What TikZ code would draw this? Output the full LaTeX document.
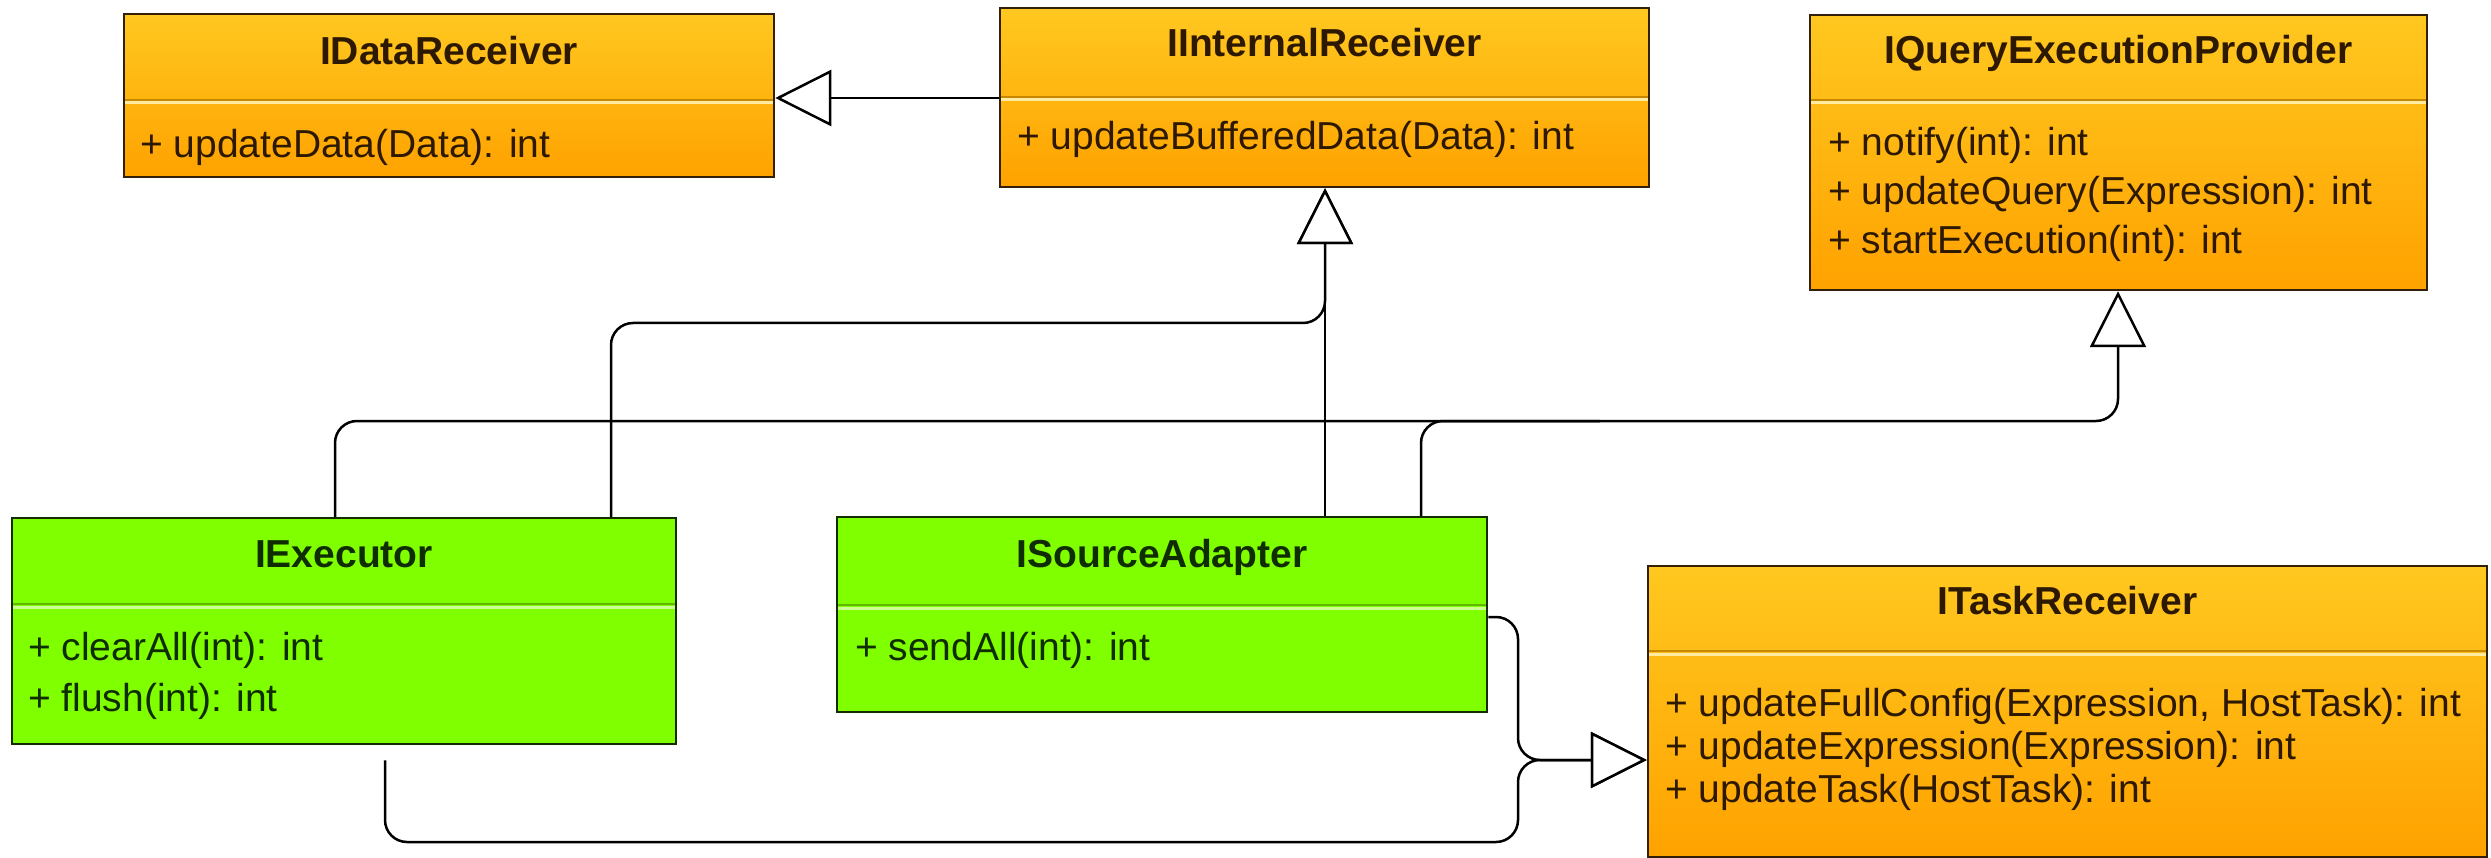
\documentclass[tikz,border=0pt]{standalone}
\usepackage{fontspec}
\setmainfont{Liberation Sans}
\usetikzlibrary{arrows.meta,calc}
\definecolor{orTop}{RGB}{255,200,32}
\definecolor{orBot}{RGB}{255,162,0}
\definecolor{orLine}{RGB}{50,32,10}
\definecolor{orSepD}{RGB}{200,135,0}
\definecolor{orSepL}{RGB}{255,236,160}
\definecolor{grFill}{RGB}{128,255,0}
\definecolor{grLine}{RGB}{20,45,0}
\definecolor{grSepD}{RGB}{95,185,0}
\definecolor{grSepL}{RGB}{205,255,150}
\definecolor{orText}{RGB}{45,25,0}
\definecolor{grText}{RGB}{15,45,0}
\tikzset{
  orbox/.style={draw=orLine, line width=2.5pt, top color=orTop, bottom color=orBot, inner sep=0pt},
  grbox/.style={draw=grLine, line width=2.5pt, fill=grFill, inner sep=0pt},
  ttl/.style={font=\fontsize{39pt}{45pt}\selectfont\bfseries, inner sep=0pt, anchor=base},
  mth/.style={font=\fontsize{39pt}{45pt}\selectfont, inner sep=0pt, anchor=base west},
  orsepd/.style={draw=orSepD, line width=2pt},
  orsepl/.style={draw=orSepL, line width=3pt},
  grsepd/.style={draw=grSepD, line width=2pt},
  grsepl/.style={draw=grSepL, line width=3pt},
  conn/.style={draw=black, line width=2.5pt, rounded corners=22pt},
  gen/.style={conn, -{Triangle[length=56pt,width=56pt,fill=white]}}
}
\begin{document}
\begin{tikzpicture}[x=1pt,y=-1pt]
\useasboundingbox[fill=white] (0,0) rectangle (2491,858);

% ---- classes ----
\node[orbox, minimum width=650pt, minimum height=163pt] (dr) at (449,95.5) {};
\draw[orsepd] (125,100) -- (773,100);
\draw[orsepl] (125,103) -- (773,103);
\node[ttl, text=orText] (drt) at (449,65) {IDataReceiver};
\node[mth, text=orText] (drm1) at (140,158) {+ updateData(Data): int};

\node[orbox, minimum width=649pt, minimum height=179pt] (ir) at (1324.5,97.5) {};
\draw[orsepd] (1001,97) -- (1648,97);
\draw[orsepl] (1001,100) -- (1648,100);
\node[ttl, text=orText] (irt) at (1324.5,57) {IInternalReceiver};
\node[mth, text=orText] (irm1) at (1017,150) {+ updateBufferedData(Data): int};

\node[orbox, minimum width=617pt, minimum height=275pt] (qe) at (2118.5,152.5) {};
\draw[orsepd] (1811,100) -- (2426,100);
\draw[orsepl] (1811,103) -- (2426,103);
\node[ttl, text=orText] (qet) at (2118.5,64) {IQueryExecutionProvider};
\node[mth, text=orText] (qem1) at (1828,156) {+ notify(int): int};
\node[mth, text=orText] (qem2) at (1828,205) {+ updateQuery(Expression): int};
\node[mth, text=orText] (qem3) at (1828,254) {+ startExecution(int): int};

\node[grbox, minimum width=664pt, minimum height=226pt] (ex) at (344,631) {};
\draw[grsepd] (13,604) -- (675,604);
\draw[grsepl] (13,607) -- (675,607);
\node[ttl, text=grText] (ext) at (344,567) {IExecutor};
\node[mth, text=grText] (exm1) at (28,660) {+ clearAll(int): int};
\node[mth, text=grText] (exm2) at (28,711) {+ flush(int): int};

\node[grbox, minimum width=650pt, minimum height=195pt] (sa) at (1162,614.5) {};
\draw[grsepd] (838,605) -- (1486,605);
\draw[grsepl] (838,608) -- (1486,608);
\node[ttl, text=grText] (sat) at (1162,567) {ISourceAdapter};
\node[mth, text=grText] (sam1) at (855,660) {+ sendAll(int): int};

\node[orbox, minimum width=839pt, minimum height=291pt] (tr) at (2067.5,711.5) {};
\draw[orsepd] (1649,651) -- (2486,651);
\draw[orsepl] (1649,654) -- (2486,654);
\node[ttl, text=orText] (trt) at (2067.5,614) {ITaskReceiver};
\node[mth, text=orText] (trm1) at (1665,716) {+ updateFullConfig(Expression, HostTask): int};
\node[mth, text=orText] (trm2) at (1665,759) {+ updateExpression(Expression): int};
\node[mth, text=orText] (trm3) at (1665,802) {+ updateTask(HostTask): int};

% ---- connectors ----
\draw[gen] (ir.west |- 0,98) -- (dr.east |- 0,98);
\draw[gen] (ex.north -| 611,0) -- (611,323) -- (1325,323) -- (ir.south -| 1325,0);
\draw[gen] (sa.north -| 1325,0) -- (ir.south -| 1325,0);
\draw[gen] (ex.north -| 335,0) -- (335,421) -- (2118,421) -- (qe.south -| 2118,0);
\draw[conn] (sa.north -| 1421,0) -- (1421,421) -- (1600,421);
\draw[gen] (sa.east |- 0,617) -- (1518,617) -- (1518,760) -- (tr.west |- 0,760);
\draw[gen] ($(ex.south -| 385,0)+(0,15)$) -- (385,842) -- (1518,842) -- (1518,760) -- (tr.west |- 0,760);
\end{tikzpicture}
\end{document}
